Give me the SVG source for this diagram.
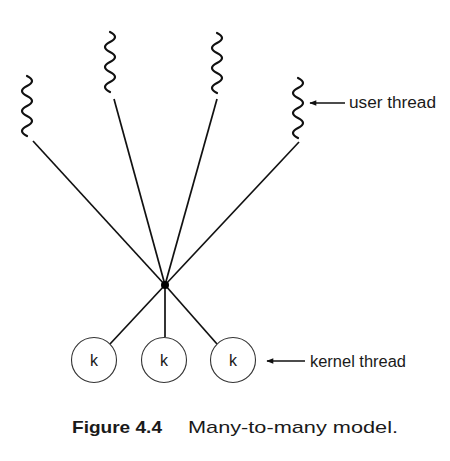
<svg xmlns="http://www.w3.org/2000/svg" width="450" height="461" viewBox="0 0 450 461">
<style>
.wave{fill:none;stroke:#111;stroke-width:2.2;stroke-linecap:round}
.edge{fill:none;stroke:#111;stroke-width:1.7}
.kc{fill:#fff;stroke:#333;stroke-width:1.1}
.lbl{font-family:"Liberation Sans",Arial,sans-serif;font-size:16px;fill:#1a1a1a}
.cap{font-family:"Liberation Sans",Arial,sans-serif;font-size:17px;fill:#1a1a1a}
</style>
<defs>
<marker id="ah" viewBox="0 0 10 10" refX="9" refY="5" markerWidth="8" markerHeight="7" orient="auto" markerUnits="userSpaceOnUse">
<path d="M10,5 L0,1 L0,9 Z" fill="#111"/>
</marker>
</defs>
<rect width="450" height="461" fill="#fff"/>
<g id="connectors">
<line class="edge" x1="33" y1="141" x2="165" y2="285"/>
<line class="edge" x1="114" y1="99" x2="165" y2="285"/>
<line class="edge" x1="217" y1="99" x2="165" y2="285"/>
<line class="edge" x1="299" y1="142" x2="165" y2="285"/>
<line class="edge" x1="165" y1="285" x2="110" y2="344"/>
<line class="edge" x1="165" y1="285" x2="165" y2="337"/>
<line class="edge" x1="165" y1="285" x2="217" y2="344"/>
<line class="edge" x1="345" y1="103" x2="310" y2="103" marker-end="url(#ah)"/>
<line class="edge" x1="305" y1="361" x2="267" y2="361" marker-end="url(#ah)"/>
</g>
<g id="user1"><path class="wave" d="M27,76 q10,5 0,10 t0,10 t0,10 t0,10 t0,10 t0,10"/></g>
<g id="user2"><path class="wave" d="M110,32 q10,5 0,10 t0,10 t0,10 t0,10 t0,10 t0,10"/></g>
<g id="user3"><path class="wave" d="M217,33 q10,5 0,10 t0,10 t0,10 t0,10 t0,10 t0,10"/></g>
<g id="user4"><path class="wave" d="M298,78 q10,5 0,10 t0,10 t0,10 t0,10 t0,10 t0,10"/></g>
<g id="hub"><circle cx="165" cy="285" r="4" fill="#000"/></g>
<g id="k1"><circle class="kc" cx="94" cy="360" r="22.5"/><text class="lbl" x="94" y="366" text-anchor="middle">k</text></g>
<g id="k2"><circle class="kc" cx="164" cy="360" r="22.5"/><text class="lbl" x="164" y="366" text-anchor="middle">k</text></g>
<g id="k3"><circle class="kc" cx="233" cy="360" r="22.5"/><text class="lbl" x="233" y="366" text-anchor="middle">k</text></g>
<g id="label-user"><text class="lbl" x="349" y="108" textLength="87" lengthAdjust="spacingAndGlyphs">user thread</text></g>
<g id="label-kernel"><text class="lbl" x="310" y="367" textLength="96" lengthAdjust="spacingAndGlyphs">kernel thread</text></g>
<g id="caption">
<text class="cap" x="72" y="433" font-weight="bold" textLength="90" lengthAdjust="spacingAndGlyphs">Figure 4.4</text>
<text class="cap" x="188" y="433" textLength="210" lengthAdjust="spacingAndGlyphs">Many-to-many model.</text>
</g>
</svg>
